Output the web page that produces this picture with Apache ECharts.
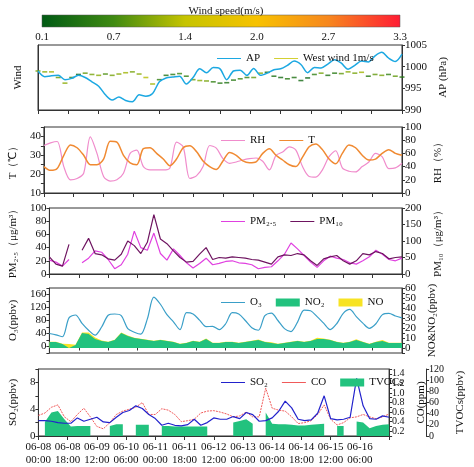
<!DOCTYPE html>
<html>
<head>
<meta charset="utf-8">
<script src="https://cdn.jsdelivr.net/npm/echarts@6/dist/echarts.min.js"></script>
<style>html,body{margin:0;padding:0;background:#fff}#main{width:474px;height:467px}</style>
</head>
<body>
<div id="main"></div>
<script>
// 4-hourly samples, hours since 06-08 00:00
var hours = [];
for (var i = 0; i <= 54; i++) hours.push(i * 4);

var colorbarTicks = ['0.1', '0.7', '1.4', '2.0', '2.7', '3.3'];
var windColors = ['#005a14', '#3f8a12', '#c6c400', '#f7c200', '#f7871e', '#ff1c34'];

var AP = [999,997.7,997.9,998,997,997.3,998,997.5,996.5,995.5,993.5,992.3,993,992.2,991.9,993.5,993.2,993.8,996.5,997.4,997.6,997.8,996,997.5,999.5,998.6,999.8,999.5,997,999,999.2,998,999.6,998,998.5,999.3,999.5,1000.3,1001.3,1000.5,998.6,999.8,999.7,1000.6,1001.6,1000.8,999.4,1000.3,1001.3,1001.1,1002.5,1003.3,1002,1001.2,1002.9];
var windLevel = [999,998.8,998.8,997.5,996.2,997.5,998.2,998.5,998.2,998,998.3,998,998.3,998.6,998.8,998.3,997.5,996,997,998,998.2,998.4,997.8,997,996.8,996.7,996.5,996.2,996.3,996.9,997.2,997.5,997.5,998.5,998.7,997.8,997.5,997.2,997.5,996.8,997.4,998.2,998.5,998,998.5,998.4,998.8,998.5,998.7,997.8,998.2,998,998.2,997.8,997.6];
var windSpeed = [1.0,1.1,1.2,0.9,1.1,0.6,0.2,0.9,1.0,1.1,0.8,1.0,1.1,1.2,1.0,1.1,1.3,1.2,0.6,0.4,0.5,0.7,0.6,0.9,1.1,1.0,0.6,0.5,0.4,0.5,0.7,0.6,0.9,1.1,0.3,0.4,0.3,0.5,0.4,0.3,0.2,0.6,1.0,0.4,0.5,0.9,1.1,1.0,1.2,0.5,0.9,1.0,0.6,0.9,0.5];

var T = [24,22,23,30,35.5,34,30,25,25,28,37.5,37,30,26,25,33.5,34,31,28,24.5,28,34,35,32,27,24,22.5,27,31.5,30,27,26,26.5,31,33.5,30,27.5,25,24,29,34.5,36,33,28,25.5,31,35.5,34,30,27.5,28,31,33,31,30];
var RH = [72,76,78,40,20,22,30,85,60,25,18,20,30,60,65,40,35,35,35,38,77,70,22,26,40,72,68,52,45,47,50,52,53,48,35,57,62,70,65,40,25,24,35,55,64,38,33,32,40,47,60,55,37,38,45];

var PM25 = [21,18,12,22,null,17,24,35,33,22,8,14,30,65,40,36,62,31,21,38,28,17,9,16,24,14,16,19,20,17,16,14,8,10,11,20,30,47,38,28,18,10,20,27,24,22,17,15,20,26,36,30,22,20,24];
var PM10 = [52,30,24,90,null,72,108,62,58,46,42,60,100,86,62,96,180,106,92,70,50,36,38,60,80,44,50,48,52,50,48,44,42,36,30,52,58,56,62,58,40,26,46,52,56,40,30,40,62,58,68,62,46,50,52];

var O3 = [40,36,30,88,97,71,50,35,60,96,100,95,55,44,38,85,152,130,98,76,52,104,100,81,61,62,52,70,104,100,80,58,50,95,103,80,55,46,75,112,110,92,72,52,70,102,114,92,72,56,70,98,102,94,88];
var NO2 = [6,6,4,0,3,15,14,9,7,6,8,15,12,10,9,8,7,8,7,6,4,5,7,6,9,5,5,6,6,5,6,7,8,6,5,4,5,6,7,6,7,9,9,8,6,5,6,8,6,4,6,7,5,5,5];
var NO = [0.3,0.3,0.3,4,0.3,0.5,1.5,1.5,0.5,0.3,0.3,0.5,0.5,0.3,0.3,0.3,0.3,0.3,0.3,0.3,0.3,0.3,0.3,0.3,0.5,0.3,0.3,0.3,0.3,0.3,0.3,0.3,0.5,0.3,0.8,0.3,0.3,0.3,0.3,0.3,0.3,1.2,0.5,0.3,0.3,0.3,0.3,0.8,0.3,0.3,0.3,1,0.3,0.3,0.3];

var SO2 = [2.3,2.3,2.2,2.0,1.9,1.9,2.7,2.2,2.5,2.8,2.1,2,2.8,3.5,3.8,4.5,4.1,3.2,2.6,1.6,1.9,1.6,1.5,1.7,2.5,1.6,2.0,2.7,2.5,2.5,2.9,2.6,3.5,3.2,2.2,2.3,2.7,3.7,5.2,4.2,2.5,2.3,2.4,3.4,6.0,2.6,2.4,2.5,2.8,8.6,4.5,2.6,2.5,3.0,2.8];
var CO = [0.53,0.58,0.7,0.75,0.5,0.4,0.55,0.68,0.5,0.3,0.25,0.38,0.55,0.62,0.66,0.7,0.8,0.55,0.55,0.67,0.64,0.55,0.4,0.42,0.45,0.58,0.62,0.63,0.6,0.56,0.5,0.52,0.6,0.5,0.5,1.1,0.68,0.64,0.62,0.5,0.36,0.38,0.42,0.55,0.75,0.45,0.33,0.38,0.48,0.5,0.55,0.5,0.46,0.5,0.56];
var TVOCs = [null,25,42,45,30,17,18,18,18,null,null,18,21,21,null,20,20,20,null,18,18,17,17,17,17,17,17,null,15,null,24,27,30,22,null,42,22,21,21,20,19,19,20,21,22,null,18,18,null,26,24,14,18,20,21];

function pairs(arr) {
  return hours.map(function (h, i) { return [h, arr[i]]; });
}
// NO drawn on top of NO2: the yellow area covers NO2 + NO
var NOtop = NO2.map(function (v, i) { return v + NO[i]; });

var font = 'Liberation Serif';
var txt = { fontFamily: font, fontSize: 11, color: '#111' };
var grids = [
  { left: 42, right: 74, top: 15, height: 12, show: false },
  { left: 38, right: 72, top: 45, height: 65 },
  { left: 38, right: 72, top: 127, height: 66 },
  { left: 38, right: 72, top: 208, height: 66 },
  { left: 38, right: 72, top: 288, height: 65 },
  { left: 38, right: 72, top: 369, height: 67 }
];
grids.forEach(function (g, i) {
  if (i > 0) { g.show = true; g.borderColor = '#333'; g.borderWidth = 1; }
});

var xAxes = [{
  gridIndex: 0, type: 'category', data: colorbarTicks, boundaryGap: false,
  axisLine: { show: false }, axisTick: { show: false },
  axisLabel: Object.assign({ margin: 5 }, txt)
}];
for (var g = 1; g <= 5; g++) {
  xAxes.push({
    gridIndex: g, type: 'value', min: 0, max: 216, interval: 18,
    axisLine: { lineStyle: { color: '#333' } },
    axisTick: { length: 4, lineStyle: { color: '#333' } },
    splitLine: { show: false },
    axisLabel: g === 5 ? Object.assign({
      lineHeight: 13, margin: 5,
      formatter: function (v) {
        var d = 8 + Math.floor(v / 24), hh = v % 24;
        if (v >= 216) return '';
        return '06-' + (d < 10 ? '0' + d : d) + '\n' + (hh < 10 ? '0' + hh : hh) + ':00';
      }
    }, txt) : { show: false }
  });
}

function yax(o) {
  var base = {
    type: 'value', splitLine: { show: false },
    axisLine: { show: true, lineStyle: { color: '#333' } },
    axisTick: { show: true, length: 3, lineStyle: { color: '#333' } },
    nameLocation: 'middle', nameRotate: 90,
    nameTextStyle: { fontFamily: font, fontSize: 11, color: '#111' },
    axisLabel: Object.assign({ margin: 3, formatter: function (v) { return String(v); } }, txt)
  };
  for (var k in o) {
    if (k === 'fmt') base.axisLabel.formatter = o.fmt;
    else if (k === 'fs') base.axisLabel.fontSize = o.fs;
    else base[k] = o[k];
  }
  return base;
}

var yAxes = [
  { gridIndex: 0, show: false, min: 0, max: 1 },
  yax({ gridIndex: 1, min: 990, max: 1005, interval: 5, name: 'Wind', nameGap: 14, axisLabel: { show: false }, axisTick: { show: false } }),
  yax({ gridIndex: 1, position: 'right', min: 990, max: 1005, interval: 5, name: 'AP (hPa)', nameGap: 30 }),
  yax({ gridIndex: 2, min: 10, max: 45, interval: 5, name: 'T（℃）', nameGap: 18,
        fmt: function (v) { return v % 10 === 0 ? String(v) : ''; } }),
  yax({ gridIndex: 2, position: 'right', min: 0, max: 100, interval: 20, name: 'RH（%）', nameGap: 24 }),
  yax({ gridIndex: 3, min: 0, max: 100, interval: 20, name: 'PM₂.₅（μg/m³）', nameGap: 20 }),
  yax({ gridIndex: 3, position: 'right', min: 0, max: 200, interval: 50, name: 'PM₁₀（μg/m³）', nameGap: 24 }),
  yax({ gridIndex: 4, min: -20, max: 180, interval: 20, name: 'O₃(ppbv)', nameGap: 22,
        fmt: function (v) { return (v >= 0 && v <= 160 && v % 40 === 0) ? String(v) : ''; } }),
  yax({ gridIndex: 4, position: 'right', min: -5, max: 60, interval: 5, name: 'NO&NO₂(ppbv)', nameGap: 18,
        fmt: function (v) { return (v >= 0 && v % 10 === 0) ? String(v) : ''; } }),
  yax({ gridIndex: 5, min: 0, max: 10, interval: 2, name: 'SO₂(ppbv)', nameGap: 14,
        fmt: function (v) { return v % 4 === 0 && v < 10 ? String(v) : ''; } }),
  yax({ gridIndex: 5, position: 'right', min: 0.1, max: 1.5, interval: 0.1, name: 'CO(ppm)', nameGap: 27, fs: 10,
        fmt: function (v) { var t = Math.round(v * 10); return (t % 2 === 0 && t >= 2 && t <= 14) ? (t / 10).toFixed(1) : ''; } }),
  yax({ gridIndex: 5, position: 'right', offset: 37, min: 0, max: 120, interval: 20, name: 'TVOCs(ppbv)', nameGap: 23, fs: 10 })
];

function line(name, xi, yi, data, color, extra) {
  var s = {
    name: name, type: 'line', xAxisIndex: xi, yAxisIndex: yi, data: pairs(data),
    showSymbol: false, smooth: 0.3, connectNulls: false,
    lineStyle: { color: color, width: 1.2 }, itemStyle: { color: color }
  };
  for (var k in extra) s[k] = extra[k];
  return s;
}

var windData = hours.map(function (h, i) { return [h, windLevel[i], windSpeed[i]]; });

var series = [
  {
    name: 'West wind 1m/s', type: 'scatter', xAxisIndex: 1, yAxisIndex: 1, data: windData,
    symbol: 'rect', symbolSize: [5, 1.6], itemStyle: { color: '#c8c400' }
  },
  line('AP', 1, 2, AP, '#1ca8e2', { lineStyle: { color: '#1ca8e2', width: 1.5 } }),
  line('RH', 2, 4, RH, '#f08ccc'),
  line('T', 2, 3, T, '#f08a32', { lineStyle: { color: '#f08a32', width: 1.5 } }),
  line('PM₂.₅', 3, 5, PM25, '#e040e0', { smooth: false }),
  line('PM₁₀', 3, 6, PM10, '#6e1460', { smooth: false }),
  line('NO', 4, 8, NOtop, '#f7e324', { smooth: false, areaStyle: { color: '#f7e324', opacity: 1 }, lineStyle: { width: 0 } }),
  line('NO₂', 4, 8, NO2, '#22c27e', { smooth: false, areaStyle: { color: '#22c27e', opacity: 1 }, lineStyle: { width: 0 } }),
  line('O₃', 4, 7, O3, '#3a9fc8'),
  line('TVOCs', 5, 11, TVOCs, '#22c27e', { smooth: false, areaStyle: { color: '#22c27e', opacity: 1 }, lineStyle: { width: 0 } }),
  line('CO', 5, 10, CO, '#f05a5a', { smooth: false, lineStyle: { color: '#f05a5a', width: 1, type: [2, 1] } }),
  line('SO₂', 5, 9, SO2, '#2222cc', { smooth: false })
];

function legend(left, top, data) {
  return {
    left: left, top: top, itemWidth: 24, itemHeight: 8, itemGap: 14,
    textStyle: { fontFamily: font, fontSize: 11, color: '#111' }, data: data
  };
}
var lineIcon = 'path://M0,4H24V5H0Z';

var option = {
  backgroundColor: '#fff',
  animation: false,
  title: {
    text: 'Wind speed(m/s)', left: 221, top: 1, textAlign: 'center',
    textStyle: { fontFamily: font, fontSize: 11, fontWeight: 'normal', color: '#111' }
  },
  graphic: [{
    type: 'rect', shape: { x: 42, y: 15, width: 358, height: 12 },
    style: {
      stroke: '#555', lineWidth: 0.5,
      fill: new echarts.graphic.LinearGradient(0, 0, 1, 0, windColors.map(function (c, i) {
        return { offset: i / (windColors.length - 1), color: c };
      }))
    }
  }],
  visualMap: {
    show: false, type: 'continuous', seriesIndex: 0, dimension: 2,
    min: 0.1, max: 3.3, inRange: { color: windColors }
  },
  grid: grids,
  xAxis: xAxes,
  yAxis: yAxes,
  legend: [
    legend(212, 48, [{ name: 'AP', icon: lineIcon }, { name: 'West wind 1m/s', icon: lineIcon, itemStyle: { color: '#c8c400' } }]),
    legend(216, 130, [{ name: 'RH', icon: lineIcon }, { name: 'T', icon: lineIcon }]),
    legend(216, 211, [{ name: 'PM₂.₅', icon: lineIcon }, { name: 'PM₁₀', icon: lineIcon }]),
    legend(216, 292, [{ name: 'O₃', icon: lineIcon }, { name: 'NO₂', icon: 'rect' }, { name: 'NO', icon: 'rect' }]),
    legend(216, 372, [{ name: 'SO₂', icon: lineIcon }, { name: 'CO', icon: lineIcon }, { name: 'TVOCs', icon: 'rect' }])
  ],
  series: series
};

var chart = echarts.init(document.getElementById('main'));
chart.setOption(option);
</script>
</body>
</html>
